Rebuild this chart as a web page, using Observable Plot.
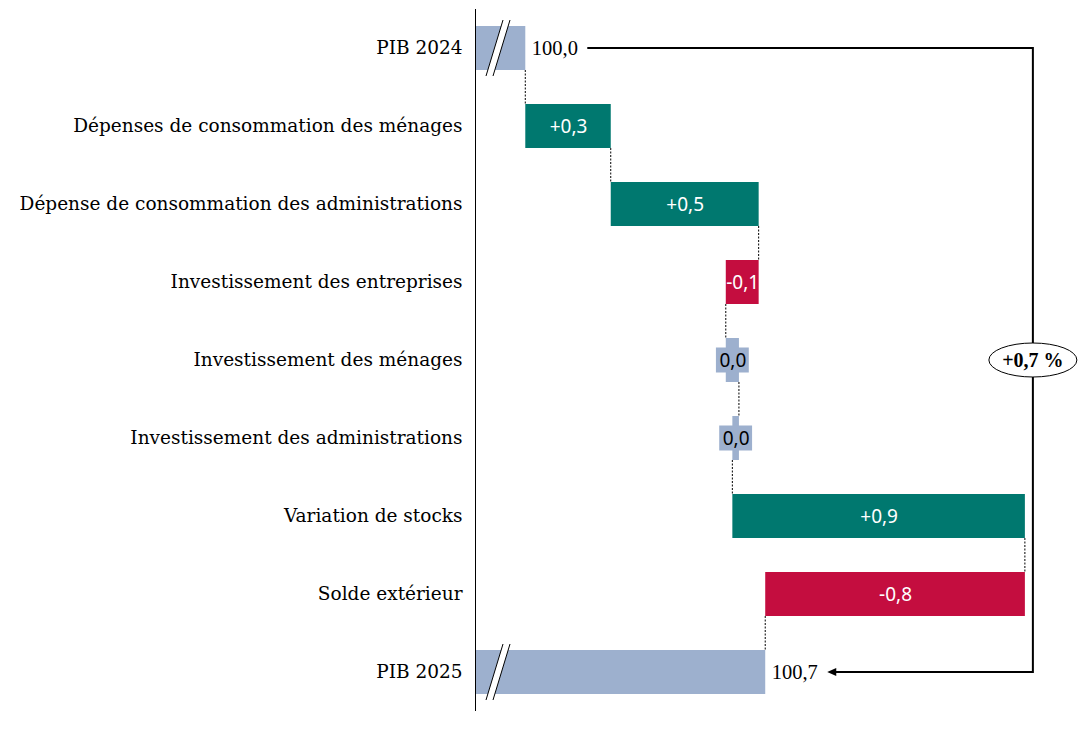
<!DOCTYPE html>
<html><head><meta charset="utf-8">
<script src="https://cdn.jsdelivr.net/npm/d3@7"></script>
<script src="https://cdn.jsdelivr.net/npm/@observablehq/plot@0.6"></script>
<style>body{margin:0;background:#fff}#chart{width:1090px;height:733px}</style>
</head><body><div id="chart"></div>
<script>
// ---- data ----
const categories = [
  "PIB 2024",
  "Dépenses de consommation des ménages",
  "Dépense de consommation des administrations",
  "Investissement des entreprises",
  "Investissement des ménages",
  "Investissement des administrations",
  "Variation de stocks",
  "Solde extérieur",
  "PIB 2025"
];
const startValue = 100.0;
const changes = [0.26, 0.45, -0.10, 0.04, -0.02, 0.89, -0.79];
const totalLabel = "+0,7 %";
const axisStart = 99.847;
const axisEnd = 101.566;

const colors = {total: "#9DB0CE", up: "#00786F", down: "#C40D3F", zero: "#9DB0CE"};

const fr = d3.formatLocale({decimal: ",", thousands: " ", grouping: [3], currency: ["", " €"], minus: "-"});
const f1 = fr.format(".1f");
const fmtChange = v => { const r = Math.round(v * 10) / 10; return r === 0 ? "0,0" : (r > 0 ? "+" : "") + f1(r); };

// ---- build rows ----
const rows = [];
rows.push({cat: categories[0], x1: axisStart, x2: startValue, end: startValue, kind: "total", label: f1(startValue)});
let cum = startValue;
changes.forEach((c, i) => {
  const s = cum; cum = cum + c;
  const kind = Math.round(c * 10) === 0 ? "zero" : (c > 0 ? "up" : "down");
  rows.push({cat: categories[i + 1], x1: s, x2: cum, end: cum, kind, label: fmtChange(c), mid: (s + cum) / 2});
});
rows.push({cat: categories[categories.length - 1], x1: axisStart, x2: cum, end: cum, kind: "total", label: f1(cum)});
const finalValue = cum;
const peak = d3.max(rows, d => d.end);

const serif = "'Liberation Serif', 'DejaVu Serif', serif";
const tickSerif = "'DejaVu Serif', 'Liberation Serif', serif";
const sans = "'Noto Sans', 'Open Sans', sans-serif";

function bw(y) { return typeof y.bandwidth === "function" ? y.bandwidth() : 44; }

// connectors (dashed)
const connectors = (index, scales) => {
  const {x, y} = scales; const b = bw(y);
  const g = d3.create("svg:g").attr("stroke", "#000").attr("stroke-width", 1).attr("stroke-dasharray", "2,1.5");
  for (let i = 0; i < rows.length - 1; i++) {
    const xe = x(rows[i].end);
    g.append("line").attr("x1", xe).attr("x2", xe)
      .attr("y1", y(rows[i].cat) + b).attr("y2", y(rows[i + 1].cat));
  }
  return g.node();
};

// break marks on total bars
const breaks = (index, scales) => {
  const {x, y} = scales; const b = bw(y);
  const g = d3.create("svg:g");
  const cx = x(axisStart) + 23;
  for (const r of rows.filter(d => d.kind === "total")) {
    const cy = y(r.cat) + b / 2;
    const h = b / 2 + 6, s = 8.5, o = 3.5;
    g.append("path").attr("fill", "#fff")
      .attr("d", `M${cx - s - o},${cy + h}L${cx + s - o},${cy - h}L${cx + s + o},${cy - h}L${cx - s + o},${cy + h}Z`);
    for (const off of [-o, o]) {
      g.append("line").attr("stroke", "#000").attr("stroke-width", 1)
        .attr("x1", cx - s + off).attr("y1", cy + h).attr("x2", cx + s + off).attr("y2", cy - h);
    }
  }
  return g.node();
};

// bracket with arrow and ellipse label
const bracket = (index, scales) => {
  const {x, y} = scales; const b = bw(y);
  const g = d3.create("svg:g");
  const y0 = y(categories[0]) + b / 2;
  const y1 = y(categories[categories.length - 1]) + b / 2;
  const xs = x(startValue) + 62;
  const xe = x(finalValue) + 62;
  const xr = x(peak) + 8;
  g.append("path").attr("fill", "none").attr("stroke", "#000").attr("stroke-width", 2)
    .attr("d", `M${xs},${y0}H${xr}V${y1}H${xe + 7}`);
  g.append("path").attr("fill", "#000").attr("d", `M${xe},${y1}L${xe + 9},${y1 - 4}L${xe + 9},${y1 + 4}Z`);
  const ym = (y0 + y1) / 2;
  g.append("ellipse").attr("cx", xr).attr("cy", ym).attr("rx", 44).attr("ry", 17)
    .attr("fill", "#fff").attr("stroke", "#000").attr("stroke-width", 1);
  g.append("text").attr("x", xr).attr("y", ym).attr("dy", "0.35em").attr("text-anchor", "middle")
    .attr("font-family", serif).attr("font-weight", "bold").attr("font-size", 20).text(totalLabel);
  return g.node();
};

const changeRows = rows.filter(d => d.kind !== "total");
const bigRows = changeRows.filter(d => d.kind !== "zero");
const zeroRows = changeRows.filter(d => d.kind === "zero");
const totalRows = rows.filter(d => d.kind === "total");

const chart = Plot.plot({
  width: 1090,
  height: 733,
  marginLeft: 475,
  marginRight: 50,
  marginTop: 9,
  marginBottom: 22,
  style: {fontFamily: serif, fontSize: "20px", color: "#000", background: "#fff"},
  x: {domain: [axisStart, axisEnd], axis: null},
  y: {domain: categories, paddingInner: 0.436, paddingOuter: 0.218, axis: null},
  color: {domain: Object.keys(colors), range: Object.values(colors)},
  marks: [
    Plot.axisY({tickSize: 0, tickPadding: 13, label: null, fontFamily: tickSerif, fontSize: 18.5}),
    Plot.barX(rows, {y: "cat", x1: "x1", x2: "x2", fill: d => d.kind}),
    Plot.barX(zeroRows, {y: "cat", x1: d => d.mid - 0.05, x2: d => d.mid + 0.05, fill: colors.zero, insetTop: 9.5, insetBottom: 9.5}),
    connectors,
    breaks,
    Plot.text(bigRows, {y: "cat", x: "mid", text: "label", fill: "#fff", fontFamily: sans, fontSize: 19}),
    Plot.text(zeroRows, {y: "cat", x: "mid", text: "label", fill: "#000", fontFamily: sans, fontSize: 19}),
    Plot.text(totalRows, {y: "cat", x: "end", text: "label", textAnchor: "start", dx: 6, fill: "#000", fontFamily: serif, fontSize: 20.5}),
    bracket,
    Plot.ruleX([axisStart], {stroke: "#000", strokeWidth: 1})
  ]
});
document.getElementById("chart").appendChild(chart);
</script>
</body></html>
